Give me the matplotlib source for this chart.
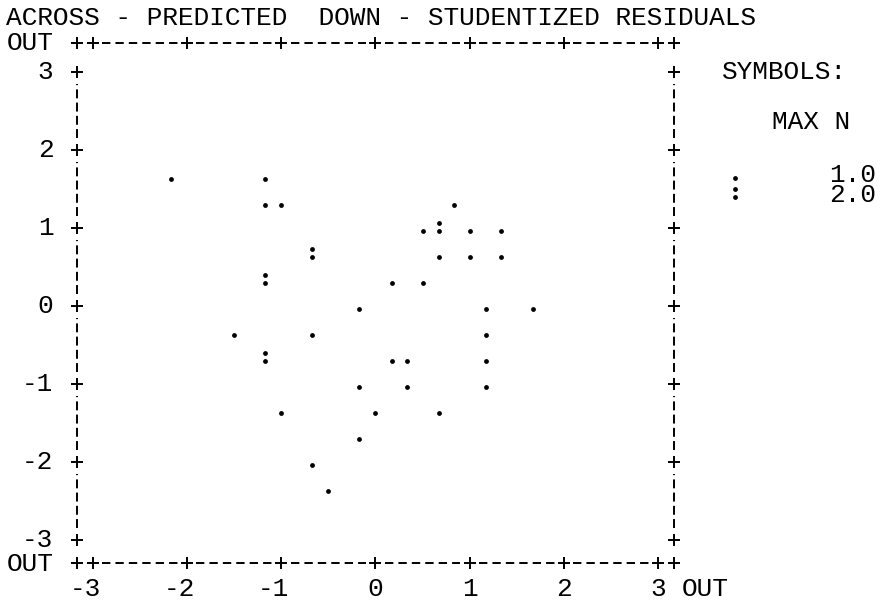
import numpy as np
import matplotlib.pyplot as plt

plt.rcParams['font.family'] = ['Liberation Mono', 'DejaVu Sans Mono']

title = 'ACROSS - PREDICTED  DOWN - STUDENTIZED RESIDUALS'
x_ticks = [-3, -2, -1, 0, 1, 2, 3]
y_ticks = [3, 2, 1, 0, -1, -2, -3]

# printer plot cells: predicted (across), studentized residual (down), n per cell
pred = [-2.17, -1.17, -1.17, -1.00, 0.83, 0.50, 0.67, 1.00, 1.33,
        -0.67, 0.67, 1.00, 1.33, -1.17, 0.17, 0.50,
        -0.17, 1.17, 1.67, -1.50, -0.67, 1.17,
        -1.17, 0.17, 0.33, 1.17, -0.17, 0.33, 1.17,
        -1.00, 0.00, 0.67, -0.17, -0.67, -0.50]
resid = [1.67, 1.67, 1.33, 1.33, 1.33, 1.00, 1.00, 1.00, 1.00,
         0.67, 0.67, 0.67, 0.67, 0.33, 0.33, 0.33,
         0.00, 0.00, 0.00, -0.33, -0.33, -0.33,
         -0.67, -0.67, -0.67, -0.67, -1.00, -1.00, -1.00,
         -1.33, -1.33, -1.33, -1.67, -2.00, -2.33]
count = [1, 1, 1, 1, 1, 1, 2, 1, 1,
         2, 1, 1, 1, 2, 1, 1,
         1, 1, 1, 1, 1, 1,
         2, 1, 1, 1, 1, 1, 1,
         1, 1, 1, 1, 1, 1]

sym_labels = ['1.0', '2.0']

fig = plt.figure(figsize=(8.86, 6.05), dpi=100)
ax = fig.add_axes([0, 0, 1, 1])
ax.set_xlim(-375.5 / 94.26, (886 - 375.5) / 94.26)
ax.set_ylim(-(605 - 306) / 78.0, 306 / 78.0)
ax.axis('off')

fs = 18.8
col = 1 / 6.0          # one character column in x units
row = 1 / 3.0          # one text line in y units
half_cap = 0.094       # to put the baseline so caps sit centred on a row
dot_lo = 3 / 78.0
dot_hi = 5 / 78.0
xe = 3 + col
y_top = 3.37
y_bot = -3.30

def put(x, y, s, ha='left'):
    ax.text(x, y - half_cap, s, fontsize=fs, ha=ha, va='baseline', color='black')

# frame: dashed borders and + ticks
for a in x_ticks[:-1]:
    for yb in (y_top, y_bot):
        ax.plot([a + 0.1, a + 0.9], [yb, yb], color='black', lw=1.4,
                ls=(0, (4.3, 2.6)), dash_capstyle='butt')
for a in y_ticks[1:]:
    for xb in (xe, -xe):
        ax.plot([xb, xb], [a + 0.16, a + 0.85], color='black', lw=1.4,
                ls=(0, (4.6, 2.2)), dash_capstyle='butt')

tick_x = x_ticks + [-xe, xe]
for yb in (y_top, y_bot):
    ax.plot(tick_x, [yb] * len(tick_x), ls='none', marker='+', ms=8, mew=1.4, color='black')
for xb in (xe, -xe):
    ax.plot([xb] * len(y_ticks), y_ticks, ls='none', marker='+', ms=8, mew=1.4, color='black')

# labels
left = -23 * col - col / 2
put(left, 3 + 2 * row + 0.03, title)
put(left, y_top, 'OUT')
put(left, y_bot, 'OUT')
for v in y_ticks:
    put(-xe - 2 * col + col / 2, v, str(v), ha='right')
for v in x_ticks:
    put(v + col / 2, -3.63, str(v), ha='right')
put(3.25, -3.63, 'OUT')

# points: '.' for one case, ':' for two
pred = np.array(pred)
resid = np.array(resid)
count = np.array(count)
ax.scatter(pred, resid - dot_lo, s=12, color='black', linewidths=0)
two = count == 2
ax.scatter(pred[two], resid[two] + dot_hi, s=12, color='black', linewidths=0)

# symbols legend
put(3.68, 3, 'SYMBOLS:')
put(4.21, 2.36, 'MAX N')
sym_y = [1.68, 1.43]
for i, (lab, yy) in enumerate(zip(sym_labels, sym_y)):
    ax.scatter([3.81], [yy - dot_lo], s=12, color='black', linewidths=0)
    if i == 1:
        ax.scatter([3.81], [yy + dot_hi], s=12, color='black', linewidths=0)
    put(5.31, yy, lab, ha='right')

plt.savefig('out.png', dpi=100)
